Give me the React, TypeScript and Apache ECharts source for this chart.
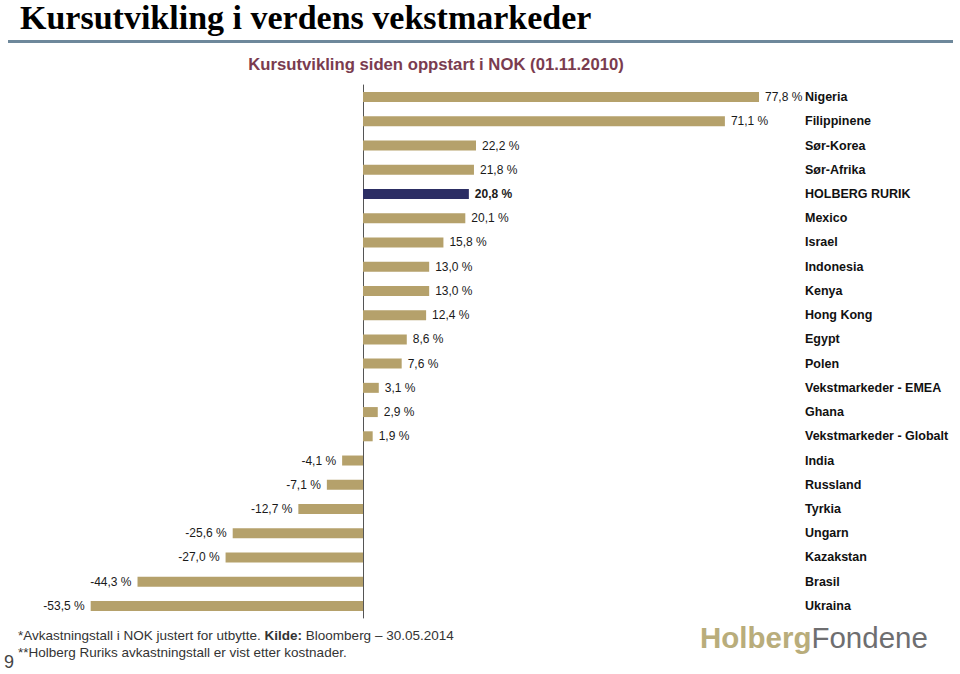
import React, { useEffect, useRef } from "react";
import * as echarts from "echarts";

const categories = [
  "Nigeria", "Filippinene", "Sør-Korea", "Sør-Afrika", "HOLBERG RURIK", "Mexico",
  "Israel", "Indonesia", "Kenya", "Hong Kong", "Egypt", "Polen",
  "Vekstmarkeder - EMEA", "Ghana", "Vekstmarkeder - Globalt", "India", "Russland",
  "Tyrkia", "Ungarn", "Kazakstan", "Brasil", "Ukraina",
];
const values = [
  77.8, 71.1, 22.2, 21.8, 20.8, 20.1, 15.8, 13.0, 13.0, 12.4, 8.6, 7.6,
  3.1, 2.9, 1.9, -4.1, -7.1, -12.7, -25.6, -27.0, -44.3, -53.5,
];
const highlight = "HOLBERG RURIK";

const TAN = "#b5a16b";
const NAVY = "#2c2e64";
const SANS = "'Liberation Sans', Arial, Helvetica, sans-serif";

const fmt = (v: number) => v.toFixed(1).replace(".", ",") + " %";

export default function App() {
  const ref = useRef<HTMLDivElement>(null);
  useEffect(() => {
    if (!ref.current) return;
    const chart = echarts.init(ref.current, undefined, { renderer: "svg" });
    const data = values.map((v, i) => {
      const hl = categories[i] === highlight;
      return {
        value: v,
        itemStyle: { color: hl ? NAVY : TAN },
        label: {
          show: true,
          position: v >= 0 ? "right" : "left",
          distance: 6,
          formatter: fmt(v),
          color: "#1a1a1a",
          fontSize: 12,
          fontFamily: SANS,
          fontWeight: hl ? "bold" : "normal",
        },
      };
    });
    chart.setOption({
      animation: false,
      backgroundColor: "#ffffff",
      grid: { left: 57.6, width: 814.4, top: 85, height: 533, containLabel: false },
      xAxis: {
        type: "value",
        min: -60,
        max: 100,
        axisLine: { show: false },
        axisTick: { show: false },
        axisLabel: { show: false },
        splitLine: { show: false },
      },
      yAxis: {
        type: "category",
        inverse: true,
        data: categories,
        axisLine: { show: true, onZero: true, lineStyle: { color: "#555555", width: 1 } },
        axisTick: { show: false },
        axisLabel: {
          inside: true,
          margin: 747.4,
          align: "left",
          color: "#111111",
          fontSize: 12.5,
          fontWeight: "bold",
          fontFamily: SANS,
        },
      },
      series: [
        {
          type: "bar",
          data,
          barWidth: 10,
        },
      ],
      graphic: [
        {
          type: "text",
          x: 20,
          y: 17,
          style: {
            text: "Kursutvikling i verdens vekstmarkeder",
            font: "bold 34px 'Liberation Serif', 'Times New Roman', serif",
            fill: "#000000",
            verticalAlign: "middle",
          },
        },
        {
          type: "rect",
          shape: { x: 8, y: 40, width: 945, height: 3 },
          style: { fill: "#6e889b" },
        },
        {
          type: "text",
          x: 436,
          y: 64,
          style: {
            text: "Kursutvikling siden oppstart i NOK (01.11.2010)",
            font: "bold 16.7px " + SANS,
            fill: "#7a3c4f",
            align: "center",
            verticalAlign: "middle",
          },
        },
        {
          type: "text",
          x: 18,
          y: 635,
          style: {
            text: "{a|*Avkastningstall i NOK justert for utbytte. }{b|Kilde:}{a| Bloomberg – 30.05.2014}",
            verticalAlign: "middle",
            rich: {
              a: { fontSize: 13.5, fontFamily: SANS, fill: "#333333" },
              b: { fontSize: 13.5, fontFamily: SANS, fill: "#333333", fontWeight: "bold" },
            },
          },
        },
        {
          type: "text",
          x: 18,
          y: 652,
          style: {
            text: "**Holberg Ruriks avkastningstall er vist etter kostnader.",
            font: "13.5px " + SANS,
            fill: "#333333",
            verticalAlign: "middle",
          },
        },
        {
          type: "text",
          x: 4,
          y: 662,
          style: {
            text: "9",
            font: "18px " + SANS,
            fill: "#444444",
            verticalAlign: "middle",
          },
        },
        {
          type: "text",
          x: 700,
          y: 637,
          style: {
            text: "{a|Holberg}{b|Fondene}",
            verticalAlign: "middle",
            rich: {
              a: { fontSize: 29.5, fontFamily: SANS, fontWeight: "bold", fill: "#b9ad7b" },
              b: { fontSize: 29.5, fontFamily: SANS, fill: "#6e6e70" },
            },
          },
        },
      ],
    });
    return () => chart.dispose();
  }, []);
  return (
    <div
      ref={ref}
      style={{ position: "fixed", left: 0, top: 0, width: 960, height: 674 }}
    />
  );
}
